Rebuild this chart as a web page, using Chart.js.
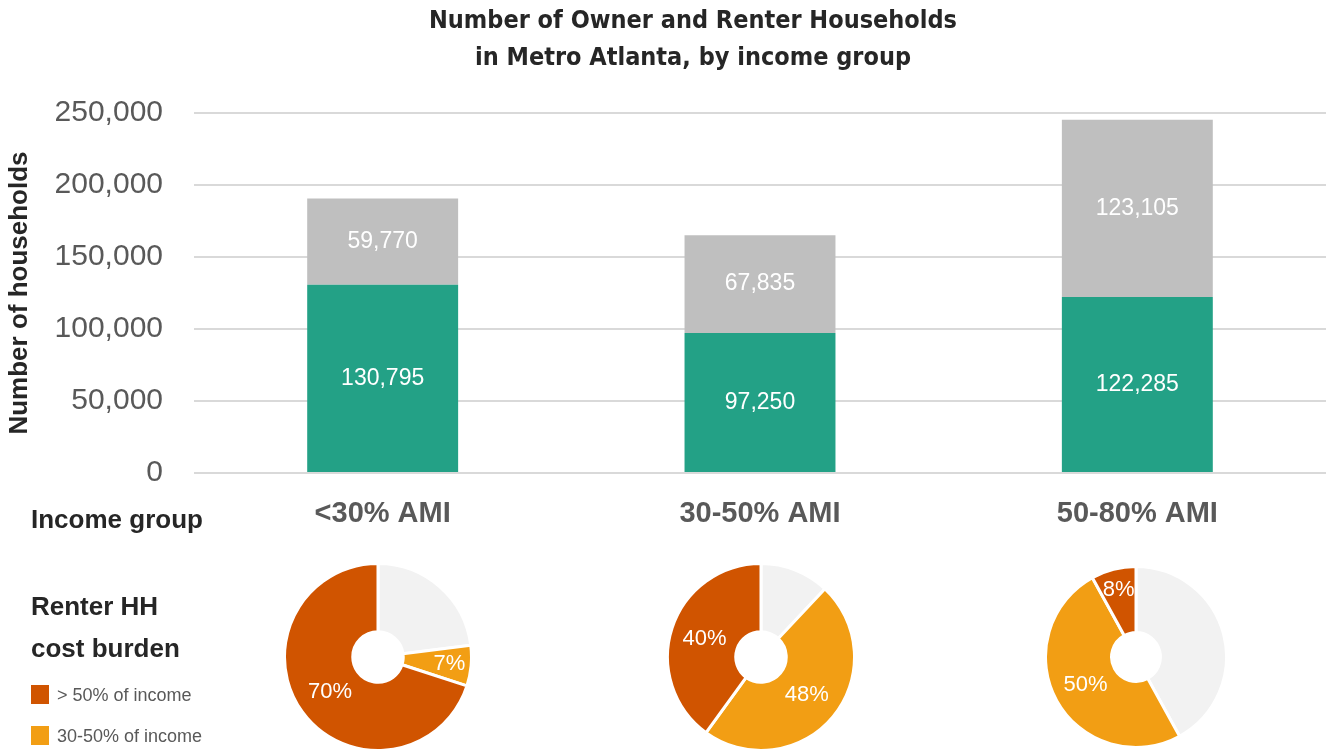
<!DOCTYPE html>
<html>
<head>
<meta charset="utf-8">
<script src="https://cdn.jsdelivr.net/npm/chart.js@4.4.1/dist/chart.umd.min.js"></script>
<style>
  body { margin: 0; background: #fff; font-family: "Liberation Sans", Arial, sans-serif; }
  #page { position: relative; width: 1326px; height: 751px; overflow: hidden; }
  #barBox { position: absolute; left: 0; top: 0; width: 1326px; height: 540px; }
  .pieBox { position: absolute; }
  #pieBox1 { left: 283px; top: 562px; width: 190px; height: 190px; }
  #pieBox2 { left: 666px; top: 562px; width: 190px; height: 190px; }
  #pieBox3 { left: 1044px; top: 565px; width: 184px; height: 184px; }
  .side { position: absolute; left: 31px; font-weight: bold; color: #262626; font-size: 26px; line-height: 42px; }
  #incomeLbl { top: 498px; }
  #burdenLbl { top: 585px; }
  .legend { position: absolute; left: 31px; font-size: 18px; color: #595959; height: 20px; line-height: 20px; }
  .legend span { display: inline-block; width: 18px; height: 19px; vertical-align: top; margin-right: 8px; }
  #leg1 { top: 685px; }
  #leg2 { top: 726px; }
</style>
</head>
<body>
<div id="page">
  <div id="barBox"><canvas id="barChart"></canvas></div>
  <div class="side" id="incomeLbl">Income group</div>
  <div class="side" id="burdenLbl">Renter HH<br>cost burden</div>
  <div class="legend" id="leg1"><span style="background:#D05400"></span>&gt; 50% of income</div>
  <div class="legend" id="leg2"><span style="background:#F29E14"></span>30-50% of income</div>
  <div class="pieBox" id="pieBox1"><canvas id="pie1"></canvas></div>
  <div class="pieBox" id="pieBox2"><canvas id="pie2"></canvas></div>
  <div class="pieBox" id="pieBox3"><canvas id="pie3"></canvas></div>
</div>
<script>
const incomeGroups = ['<30% AMI', '30-50% AMI', '50-80% AMI'];
const renterHouseholds = [130795, 97250, 122285];
const ownerHouseholds = [59770, 67835, 123105];
const yTicks = [0, 50000, 100000, 150000, 200000, 250000];

const burdenLabels = ['Not cost burdened', '30-50% of income', '> 50% of income'];
const notBurdened = [23, 12, 42];
const burden30to50 = [7, 48, 50];
const burdenOver50 = [70, 40, 8];

const font = '"Liberation Sans", Arial, sans-serif';
Chart.defaults.font.family = font;
Chart.defaults.animation = false;

// white numbers in the middle of each bar segment
const barLabels = {
  id: 'barLabels',
  afterDatasetsDraw(chart) {
    const ctx = chart.ctx;
    ctx.save();
    ctx.fillStyle = '#fff';
    ctx.font = '23px ' + font;
    ctx.textAlign = 'center';
    ctx.textBaseline = 'middle';
    chart.data.datasets.forEach((ds, i) => {
      chart.getDatasetMeta(i).data.forEach((bar, j) => {
        const p = bar.getProps(['x', 'y', 'base'], true);
        ctx.fillText(ds.data[j].toLocaleString('en-US'), p.x, (p.y + p.base) / 2);
      });
    });
    ctx.restore();
  }
};

// title in the original sits a little right of the page centre
const titleOffset = {
  id: 'titleOffset',
  afterLayout(chart) {
    if (chart.titleBlock) chart.titleBlock.left += 60;
  }
};

new Chart(document.getElementById('barChart'), {
  type: 'bar',
  data: {
    labels: incomeGroups,
    datasets: [
      { label: 'Renter households', data: renterHouseholds, backgroundColor: '#23A186' },
      { label: 'Owner households', data: ownerHouseholds, backgroundColor: '#BFBFBF' }
    ]
  },
  options: {
    responsive: true,
    maintainAspectRatio: false,
    layout: { padding: 0 },
    categoryPercentage: 1,
    barPercentage: 0.4,
    plugins: {
      legend: { display: false },
      tooltip: { enabled: false },
      title: {
        display: true,
        text: ['Number of Owner and Renter Households', 'in Metro Atlanta, by income group'],
        color: '#262626',
        font: { family: '"DejaVu Sans Condensed", "DejaVu Sans", sans-serif', size: 25, weight: 'bold', lineHeight: 1.48 },
        padding: { top: 3, bottom: 36 }
      }
    },
    scales: {
      x: {
        stacked: true,
        grid: { display: false, drawTicks: false },
        border: { display: false },
        ticks: { color: '#595959', font: { size: 29, weight: 'bold' }, padding: 24 },
        afterFit(s) { s.height = 67; }
      },
      y: {
        stacked: true,
        min: 0,
        max: 250000,
        afterBuildTicks(s) { s.ticks = yTicks.map(v => ({ value: v })); },
        grid: { color: '#D9D9D9', lineWidth: 2, drawTicks: false },
        border: { display: false },
        ticks: {
          color: '#595959',
          font: { size: 30 },
          padding: 31,
          callback: v => v.toLocaleString('en-US')
        },
        title: {
          display: true,
          text: 'Number of households',
          color: '#262626',
          font: { size: 26, weight: 'bold' },
          padding: { top: 4, bottom: 0 }
        },
        afterFit(s) { s.width = 194; }
      }
    }
  },
  plugins: [barLabels, titleOffset]
});

// percentage labels on the coloured slices
const pieLabels = {
  id: 'pieLabels',
  afterDatasetsDraw(chart) {
    const ctx = chart.ctx;
    const ds = chart.data.datasets[0];
    ctx.save();
    ctx.fillStyle = '#fff';
    ctx.font = '22px ' + font;
    ctx.textAlign = 'center';
    ctx.textBaseline = 'middle';
    chart.getDatasetMeta(0).data.forEach((arc, i) => {
      if (i === 0) return;
      const p = arc.getProps(['x', 'y', 'startAngle', 'endAngle', 'innerRadius', 'outerRadius'], true);
      const mid = (p.startAngle + p.endAngle) / 2;
      const f = ds.data[i] < 10 ? 0.68 : 0.5;
      const r = p.innerRadius + (p.outerRadius - p.innerRadius) * f;
      ctx.fillText(ds.data[i] + '%', p.x + Math.cos(mid) * r, p.y + Math.sin(mid) * r);
    });
    ctx.restore();
  }
};

function makePie(id, idx) {
  new Chart(document.getElementById(id), {
    type: 'doughnut',
    data: {
      labels: burdenLabels,
      datasets: [{
        data: [notBurdened[idx], burden30to50[idx], burdenOver50[idx]],
        backgroundColor: ['#F2F2F2', '#F29E14', '#D05400'],
        borderColor: '#fff',
        borderWidth: 3
      }]
    },
    options: {
      responsive: true,
      maintainAspectRatio: false,
      cutout: '27%',
      plugins: { legend: { display: false }, tooltip: { enabled: false } }
    },
    plugins: [pieLabels]
  });
}
makePie('pie1', 0);
makePie('pie2', 1);
makePie('pie3', 2);
</script>
</body>
</html>
